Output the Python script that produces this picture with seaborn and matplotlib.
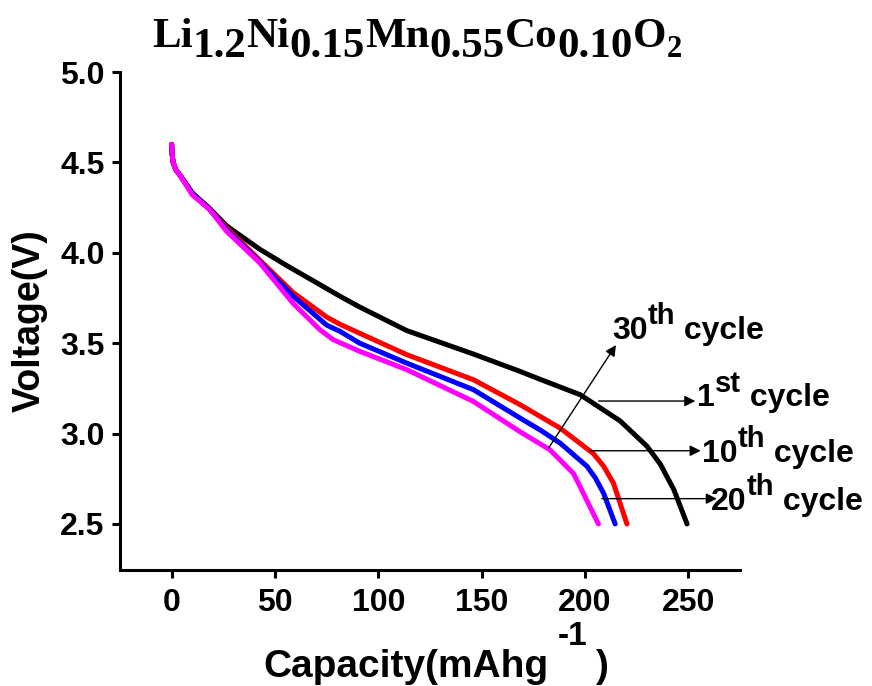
import matplotlib
matplotlib.use("Agg")
import matplotlib.pyplot as plt
import seaborn as sns
import pandas as pd

# ── data ─────────────────────────────────────────────────────────────────────
cycles = ["1st", "10th", "20th", "30th"]
colors = ["#000000", "#ff0000", "#0000ff", "#ff00ff"]

cap_1st = [0, 0.2, 0.7, 2, 4, 10, 18, 26.5, 42.6, 55.6, 67, 81.4, 91, 113.7,
           146, 168.6, 178.3, 197.7, 217, 230, 236.5, 243, 249.4]
volt_1st = [4.60, 4.55, 4.50, 4.46, 4.43, 4.33, 4.25, 4.15, 4.02, 3.93, 3.855,
            3.76, 3.70, 3.57, 3.44, 3.344, 3.30, 3.215, 3.07, 2.93, 2.83,
            2.69, 2.50]

cap_10th = [0, 0.2, 0.7, 2, 4, 10, 18.4, 26.5, 42.6, 58.8, 75, 81.4, 91, 113.7,
            146, 168.6, 178.3, 188, 204, 209, 213.8, 220.3]
volt_10th = [4.60, 4.55, 4.50, 4.46, 4.43, 4.33, 4.24, 4.14, 3.96, 3.78, 3.645,
             3.605, 3.555, 3.437, 3.298, 3.16, 3.095, 3.03, 2.89, 2.82,
             2.725, 2.50]

cap_20th = [0, 0.2, 0.7, 2, 4, 10, 18.4, 26.5, 42.6, 58.8, 75, 81.4, 91, 113.7,
            146, 168.6, 178.3, 188, 200.9, 205, 209, 214.6]
volt_20th = [4.60, 4.55, 4.50, 4.46, 4.43, 4.33, 4.24, 4.13, 3.95, 3.76, 3.60,
             3.566, 3.50, 3.39, 3.243, 3.086, 3.02, 2.947, 2.82, 2.755, 2.67,
             2.50]

cap_30th = [0, 0.2, 0.7, 2, 4, 10, 18.4, 26.5, 42.6, 58.8, 71.7, 78.1, 91,
            113.7, 146, 168.6, 183.1, 194.4, 197.5, 200.9, 206.5]
volt_30th = [4.60, 4.55, 4.50, 4.46, 4.43, 4.32, 4.24, 4.12, 3.945, 3.72,
             3.575, 3.52, 3.455, 3.354, 3.178, 3.01, 2.91, 2.78, 2.71, 2.63,
             2.50]

x_ticks = [0, 50, 100, 150, 200, 250]
y_ticks = [2.5, 3.0, 3.5, 4.0, 4.5, 5.0]

frames = []
for name, c, v in zip(cycles, [cap_1st, cap_10th, cap_20th, cap_30th],
                      [volt_1st, volt_10th, volt_20th, volt_30th]):
    frames.append(pd.DataFrame({"capacity": c, "voltage": v, "cycle": name}))
df = pd.concat(frames, ignore_index=True)

# ── style ────────────────────────────────────────────────────────────────────
sns.set_style("ticks")
plt.rcParams["font.family"] = ["Liberation Sans", "DejaVu Sans"]
plt.rcParams["font.weight"] = "bold"
for key in ["text.color", "axes.labelcolor", "xtick.color", "ytick.color",
            "axes.edgecolor"]:
    plt.rcParams[key] = "black"

fig = plt.figure(figsize=(8.72, 6.86), dpi=100)
ax = fig.add_axes([0.1376, 0.169, 0.711, 0.726])

sns.lineplot(data=df, x="capacity", y="voltage", hue="cycle",
             palette=dict(zip(cycles, colors)), estimator=None, sort=False,
             lw=3.6, legend=False, ax=ax)
for line in ax.lines:
    line.set_solid_joinstyle("round")

ax.set_xlim(-25, 275)
ax.set_ylim(2.245, 5.0)
ax.set_xticks(x_ticks)
ax.set_yticks(y_ticks)
ax.set_yticklabels([f"{t:.1f}" for t in y_ticks])
ax.tick_params(axis="both", labelsize=23, width=2.2, length=6, direction="out")
ax.tick_params(axis="x", pad=7)
ax.tick_params(axis="y", pad=5)
sns.despine(ax=ax)
for s in ["left", "bottom"]:
    ax.spines[s].set_linewidth(2.2)

ax.set_xlabel("")
ax.set_ylabel("Voltage(V)", fontsize=27, fontweight="bold", labelpad=9)


def chain(x, y, pieces, coords, family="Liberation Sans"):
    """Write text pieces one after another; piece = (text, dx_pt, dy_pt, size)."""
    prev = None
    for s, dx, dy, size in pieces:
        if prev is None:
            xy, xyc = (x, y), coords
        else:
            xy, xyc = (1, y), (prev, coords)
        prev = ax.annotate(s, xy=xy, xycoords=xyc, xytext=(dx, dy),
                           textcoords="offset points", fontsize=size,
                           family=family, fontweight="bold", ha="left",
                           va="baseline", annotation_clip=False)
    return prev


# x label with a raised "-1"
chain(263, 686 - 677,
      [("Capacity(mAhg", 0, 0, 28), ("-1", 7, 23, 24), (")", 6, 0, 28)],
      "figure pixels")

# ── annotations ──────────────────────────────────────────────────────────────
arrow = dict(arrowstyle="-|>", lw=1.0, color="black", mutation_scale=16,
             shrinkA=0, shrinkB=0)
labels = [
    ("30", "th", (182.4, 2.92), (215, 3.49), (213.0, 3.524)),
    ("1", "st", (206.6, 3.18), (253.4, 3.18), (254.2, 3.150)),
    ("10", "th", (202.5, 2.905), (256, 2.905), (256.5, 2.845)),
    ("20", "th", (208.2, 2.64), (263.8, 2.64), (261.0, 2.578)),
]
for num, sup, tail, head, pos in labels:
    ax.annotate("", xy=head, xytext=tail, arrowprops=arrow)
    chain(pos[0], pos[1],
          [(num, 0, 0, 23), (sup, 0, 10.5, 21), (" cycle", 0, 0, 23)],
          "data")

# ── title: formula with lowered stoichiometric numbers ───────────────────────
title_pieces = [("Li", 0, 0, 31), ("1.2", 0, -7.2, 31), ("Ni", 0, 0, 31),
                ("0.15", 0, -7.2, 31), ("Mn", 0, 0, 31), ("0.55", 0, -7.2, 31),
                ("Co", 0, 0, 31), ("0.10", 0, -7.2, 31), ("O", 0, 0, 31),
                ("2", 0, -7.2, 22)]
chain(152, 686 - 47, title_pieces, "figure pixels", family="Liberation Serif")

fig.savefig("out.png", dpi=100)
